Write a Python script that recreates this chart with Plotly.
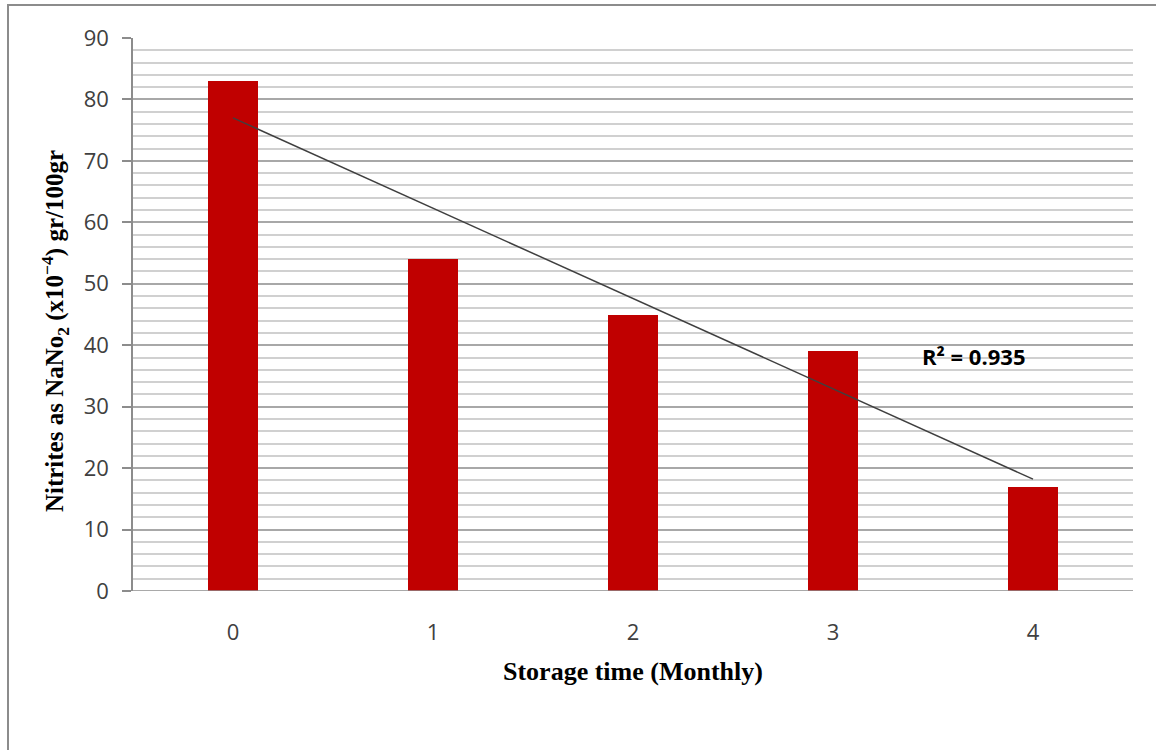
import numpy as np
import plotly.graph_objects as go

# Storage time (months) and nitrite content
months = [0, 1, 2, 3, 4]
nitrites = [83, 54, 45, 39, 17]
month_labels = ["0", "1", "2", "3", "4"]
y_ticks = [0, 10, 20, 30, 40, 50, 60, 70, 80, 90]

# Linear trendline and its coefficient of determination
slope, intercept = np.polyfit(months, nitrites, 1)
fitted = [slope * m + intercept for m in months]
ss_res = sum((y - f) ** 2 for y, f in zip(nitrites, fitted))
mean_y = sum(nitrites) / len(nitrites)
ss_tot = sum((y - mean_y) ** 2 for y in nitrites)
r2 = 1 - ss_res / ss_tot

fig = go.Figure()
fig.add_trace(go.Bar(
    x=months, y=nitrites, width=0.25,
    marker=dict(color="#c00000", line=dict(width=0)),
    showlegend=False,
))
fig.add_trace(go.Scatter(
    x=[months[0], months[-1]], y=[fitted[0], fitted[-1]],
    mode="lines", line=dict(color="#3f3f3f", width=1.5),
    showlegend=False,
))

tick_font = dict(family="Open Sans, Liberation Sans, sans-serif", size=22, color="#404040")
serif = "Liberation Serif, Times New Roman, serif"

fig.update_layout(
    width=1156, height=750,
    margin=dict(l=133, r=23, t=38, b=159),
    paper_bgcolor="white", plot_bgcolor="white",
    bargap=0,
    xaxis=dict(
        range=[-0.5, 4.5], tickvals=months, ticktext=month_labels,
        tickfont=tick_font, showgrid=False, zeroline=False,
        showline=False, ticks="", ticklabelstandoff=26,
    ),
    yaxis=dict(
        range=[0, 90], tickvals=y_ticks, tickfont=tick_font,
        showgrid=True, gridcolor="#a8a8a8", gridwidth=1.5,
        zeroline=False, showline=True, linecolor="#8c8c8c", linewidth=1.5,
        ticks="outside", ticklen=9, tickcolor="#8c8c8c", tickwidth=1.5,
        ticklabelstandoff=9,
        minor=dict(dtick=2, showgrid=True, gridcolor="#d0d0d0", gridwidth=1.5),
    ),
    shapes=[
        # baseline of the category axis
        dict(type="line", xref="paper", yref="y", x0=0, x1=1, y0=0, y1=0,
             line=dict(color="#8c8c8c", width=1.5)),
        # chart area border
        dict(type="rect", xref="paper", yref="paper",
             x0=-0.125, x1=1.03, y0=-0.3, y1=1.0597,
             line=dict(color="#8c8c8c", width=2), layer="below"),
    ],
    annotations=[
        dict(text="<b>Nitrites as NaNo<sub>2</sub> (x10<sup>−4</sup>) gr/100gr</b>",
             xref="paper", yref="paper", x=-0.078, y=0.47,
             xanchor="center", yanchor="middle", textangle=-90,
             showarrow=False, font=dict(family=serif, size=25, color="#000000")),
        dict(text="<b>Storage time (Monthly)</b>",
             xref="paper", yref="paper", x=0.5, y=-0.145,
             xanchor="center", yanchor="middle",
             showarrow=False, font=dict(family=serif, size=26, color="#000000")),
        dict(text=f"<b>R² = {r2:.3f}</b>",
             xref="x", yref="y", x=3.7, y=38.2,
             xanchor="center", yanchor="middle",
             showarrow=False,
             font=dict(family="Open Sans, Liberation Sans, sans-serif", size=22, color="#000000")),
    ],
)

fig.write_html("out.html")
